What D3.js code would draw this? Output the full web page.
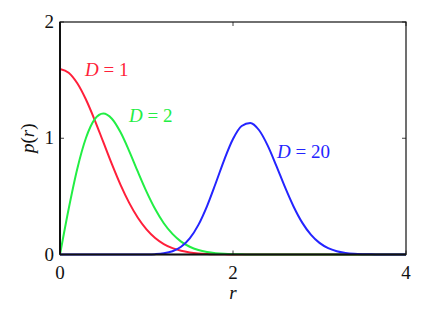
<!DOCTYPE html>
<html><head><script src="https://cdn.jsdelivr.net/npm/d3@7"></script></head>
<body style="margin:0;background:#fff">
<svg id="chart" width="431" height="311" style="display:block"></svg>
<script>
  // r sample positions (0 .. 4, step 0.1)
  const rValues = [
    0.0, 0.1, 0.2, 0.3, 0.4, 0.5, 0.6, 0.7, 0.8, 0.9,
    1.0, 1.1, 1.2, 1.3, 1.4, 1.5, 1.6, 1.7, 1.8, 1.9,
    2.0, 2.1, 2.2, 2.3, 2.4, 2.5, 2.6, 2.7, 2.8, 2.9,
    3.0, 3.1, 3.2, 3.3, 3.4, 3.5, 3.6, 3.7, 3.8, 3.9, 4.0
  ];

  // p(r), one array per curve
  const pD1 = [
    1.596, 1.564, 1.473, 1.333, 1.159, 0.968, 0.777, 0.599, 0.444, 0.316,
    0.216, 0.142, 0.0896, 0.0543, 0.0317, 0.0177, 0.0095, 0.0049, 0.0025, 0.0012,
    0.0005, 0.0002, 0.0001, 0, 0, 0, 0, 0, 0, 0,
    0, 0, 0, 0, 0, 0, 0, 0, 0, 0, 0
  ];
  const pD2 = [
    0, 0.392, 0.738, 1.002, 1.162, 1.213, 1.168, 1.051, 0.890, 0.712,
    0.541, 0.391, 0.269, 0.177, 0.111, 0.0667, 0.0383, 0.0210, 0.0111, 0.0056,
    0.0027, 0.0012, 0.0006, 0.0002, 0.0001, 0, 0, 0, 0, 0,
    0, 0, 0, 0, 0, 0, 0, 0, 0, 0, 0
  ];
  const pD20 = [
    0, 0, 0, 0, 0, 0, 0, 0, 0, 0.00015,
    0.00076, 0.00307, 0.0101, 0.0281, 0.0669, 0.139, 0.255, 0.417, 0.613, 0.817,
    0.993, 1.105, 1.132, 1.071, 0.939, 0.765, 0.581, 0.413, 0.274, 0.171,
    0.0999, 0.0550, 0.0285, 0.0139, 0.0064, 0.0028, 0.00116, 0.00045, 0.00017, 0.00006, 0.00002
  ];

  const seriesNames = ["D = 1", "D = 2", "D = 20"];
  const seriesColors = ["#ff1f3a", "#22ee44", "#2424ff"];
  const seriesLabelAt = [[85, 76], [129, 122], [277, 158]]; // label anchor in px
  const xTicks = [0, 2, 4];
  const yTicks = [0, 1, 2];

  const W = 431, H = 311;
  const margin = { top: 22, right: 25, bottom: 57, left: 60 };

  const svg = d3.select("#chart");

  const x = d3.scaleLinear().domain([0, 4]).range([margin.left, W - margin.right]);
  const y = d3.scaleLinear().domain([0, 2]).range([H - margin.bottom + 0.5, margin.top]);

  // curves
  const line = d3.line()
    .x(d => x(d[0])).y(d => y(d[1]))
    .curve(d3.curveMonotoneX);

  [pD1, pD2, pD20].forEach((vals, i) => {
    const pts = rValues.map((r, k) => [r, vals[k]]);
    svg.append("path")
      .datum(pts)
      .attr("d", line)
      .attr("fill", "none")
      .attr("stroke", seriesColors[i])
      .attr("stroke-width", 2);
  });

  // frame
  svg.append("rect")
    .attr("x", x(0)).attr("y", y(2))
    .attr("width", x(4) - x(0)).attr("height", y(0) - y(2))
    .attr("fill", "none").attr("stroke", "#111").attr("stroke-width", 1.2);
  // heavier bottom/left axes
  svg.append("line").attr("x1", x(0)).attr("x2", x(4)).attr("y1", y(0)).attr("y2", y(0))
    .attr("stroke", "#111").attr("stroke-width", 2);
  svg.append("line").attr("x1", x(0)).attr("x2", x(0)).attr("y1", y(0)).attr("y2", y(2))
    .attr("stroke", "#111").attr("stroke-width", 2);

  // inward ticks on all four sides
  const tk = 4;
  xTicks.forEach(t => {
    svg.append("line").attr("x1", x(t)).attr("x2", x(t)).attr("y1", y(0)).attr("y2", y(0) - tk)
      .attr("stroke", "#111").attr("stroke-width", 0.8);
    svg.append("line").attr("x1", x(t)).attr("x2", x(t)).attr("y1", y(2)).attr("y2", y(2) + tk)
      .attr("stroke", "#111").attr("stroke-width", 0.8);
    svg.append("text").attr("x", x(t)).attr("y", y(0) + 24)
      .attr("text-anchor", "middle").attr("font-size", "19px").attr("font-family", "Liberation Serif")
      .attr("fill", "#111").text(t);
  });
  yTicks.forEach(t => {
    svg.append("line").attr("x1", x(0)).attr("x2", x(0) + tk).attr("y1", y(t)).attr("y2", y(t))
      .attr("stroke", "#111").attr("stroke-width", 0.8);
    svg.append("line").attr("x1", x(4)).attr("x2", x(4) - tk).attr("y1", y(t)).attr("y2", y(t))
      .attr("stroke", "#111").attr("stroke-width", 0.8);
    svg.append("text").attr("x", x(0) - 6).attr("y", y(t) + 6)
      .attr("text-anchor", "end").attr("font-size", "19px").attr("font-family", "Liberation Serif")
      .attr("fill", "#111").text(t);
  });

  // axis titles
  svg.append("text").attr("x", x(2)).attr("y", H - 12)
    .attr("text-anchor", "middle").attr("font-size", "19px").attr("font-family", "Liberation Serif")
    .attr("font-style", "italic").attr("fill", "#111").text("r");
  svg.append("text")
    .attr("transform", `translate(34, ${y(1)}) rotate(-90)`)
    .attr("text-anchor", "middle").attr("font-size", "19px").attr("font-family", "Liberation Serif")
    .attr("fill", "#111")
    .call(t => {
      t.append("tspan").attr("font-style", "italic").text("p");
      t.append("tspan").text("(");
      t.append("tspan").attr("font-style", "italic").text("r");
      t.append("tspan").text(")");
    });

  // curve labels
  seriesNames.forEach((name, i) => {
    const [lx, ly] = seriesLabelAt[i];
    const parts = name.split(" = ");
    const txt = svg.append("text").attr("x", lx).attr("y", ly)
      .attr("font-size", "19px").attr("font-family", "Liberation Serif")
      .attr("fill", seriesColors[i]);
    txt.append("tspan").attr("font-style", "italic").text(parts[0]);
    txt.append("tspan").text(" = " + parts[1]);
  });
</script>
</body>
</html>
